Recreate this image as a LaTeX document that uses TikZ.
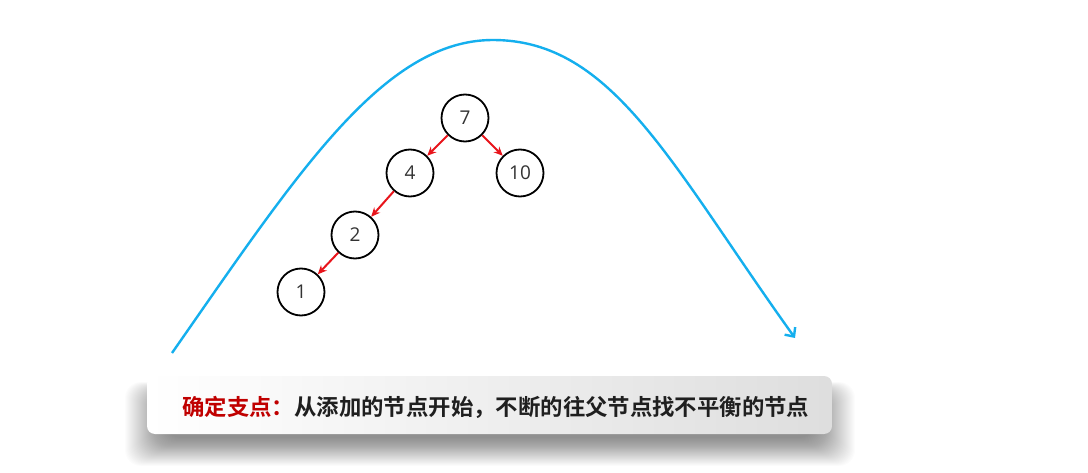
\documentclass[tikz,border=0pt]{standalone}
\usepackage{fontspec}
\setsansfont{Open Sans}
\newfontfamily\cjk{Noto Sans CJK SC}[BoldFont={Noto Sans CJK SC Bold}]
\usetikzlibrary{arrows.meta}
\definecolor{curveblue}{HTML}{14AFEE}
\definecolor{edgered}{HTML}{E8141B}
\definecolor{titlered}{HTML}{C00000}
\definecolor{numgray}{HTML}{333333}
\tikzset{
  treenode/.style={circle, draw=black, line width=1.8pt, minimum size=47pt, inner sep=0pt, fill=white,
    font=\sffamily\fontsize{19}{19}\selectfont, text=numgray},
  treeedge/.style={draw=edgered, line width=2pt, -{Stealth[length=9pt,width=8pt]}},
  bigcurve/.style={draw=curveblue, line width=2.4pt, -{Straight Barb[length=7pt,width=13pt]}},
  notebox/.style={rounded corners=8pt, left color=white, right color=black!13},
}
\begin{document}
\begin{tikzpicture}[x=1pt,y=-1pt]
\useasboundingbox (0,0) rectangle (1088,473);
\fill[white] (0,0) rectangle (1088,473);
% curve
\coordinate (cs) at (172,353);
\coordinate (cp) at (493,40);
\coordinate (ce) at (795,338);
\draw[bigcurve] (cs) .. controls (297,174) and (383,40) .. (cp)
  .. controls (613,40) and (671,165) .. (ce);
% tree
\node[treenode] (n7) at (465,118) {7};
\node[treenode] (n4) at (410,173) {4};
\node[treenode] (n10) at (520,173) {10};
\node[treenode] (n2) at (355,235) {2};
\node[treenode] (n1) at (301,292) {1};
\draw[treeedge] (n7) -- (n4);
\draw[treeedge] (n7) -- (n10);
\draw[treeedge] (n4) -- (n2);
\draw[treeedge] (n2) -- (n1);
% shadow
\foreach \e in {0,...,40}{
  \fill[black, opacity=0.01, rounded corners=16pt]
    (165-\e,398-\e*0.4) rectangle (815+\e,438+\e*0.7);
}
% box
\node[notebox, minimum width=685pt, minimum height=58pt, inner sep=0pt] (box) at (489.5,405) {};
\node[anchor=west, inner sep=0pt, font=\cjk\bfseries\fontsize{22.4}{22.4}\selectfont] (txt) at (182,407)
  {\textcolor{titlered}{确定支点：}\textcolor{black!88}{从添加的节点开始，不断的往父节点找不平衡的节点}};
\end{tikzpicture}
\end{document}
